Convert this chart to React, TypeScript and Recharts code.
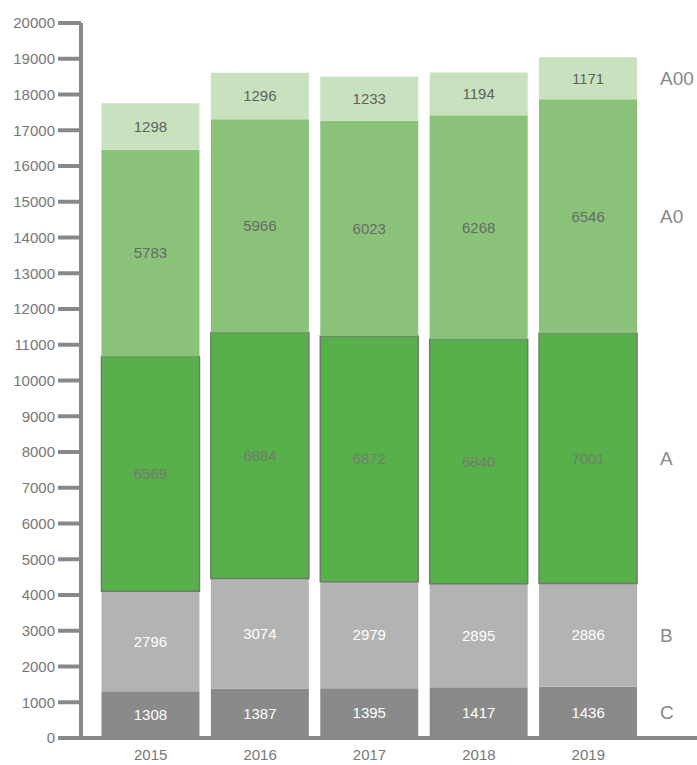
import { BarChart, Bar, XAxis, YAxis, LabelList } from "recharts";

const years = ["2015", "2016", "2017", "2018", "2019"];
const seriesC = [1308, 1387, 1395, 1417, 1436];
const seriesB = [2796, 3074, 2979, 2895, 2886];
const seriesA = [6569, 6884, 6872, 6840, 7001];
const seriesA0 = [5783, 5966, 6023, 6268, 6546];
const seriesA00 = [1298, 1296, 1233, 1194, 1171];
const yTicks = [
  0, 1000, 2000, 3000, 4000, 5000, 6000, 7000, 8000, 9000, 10000,
  11000, 12000, 13000, 14000, 15000, 16000, 17000, 18000, 19000, 20000,
];

const data = years.map((year, i) => ({
  year,
  C: seriesC[i],
  B: seriesB[i],
  A: seriesA[i],
  A0: seriesA0[i],
  A00: seriesA00[i],
}));

const series = [
  { key: "C", fill: "#8a8a8a", text: "#ffffff", stroke: "none" },
  { key: "B", fill: "#b3b3b3", text: "#ffffff", stroke: "none" },
  { key: "A", fill: "#58b04b", text: "#727c70", stroke: "#6f7a6c" },
  { key: "A0", fill: "#8ac27a", text: "#666a66", stroke: "none" },
  { key: "A00", fill: "#c8e2bf", text: "#5f635f", stroke: "none" },
];

const font = "'Liberation Sans', Arial, sans-serif";
const axisColor = "#888888";

export default function App() {
  return (
    <div style={{ position: "absolute", left: 0, top: 0, width: 697, height: 765, background: "#fff" }}>
      <BarChart
        width={697}
        height={765}
        data={data}
        margin={{ top: 23, right: 0, left: 0, bottom: 0 }}
        barCategoryGap="5%"
        style={{ fontFamily: font }}
      >
        <XAxis
          dataKey="year"
          height={27}
          padding={{ left: 15, right: 54 }}
          axisLine={{ stroke: axisColor, strokeWidth: 4 }}
          tickLine={false}
          tickMargin={5}
          tick={{ fill: "#777", fontSize: 15, fontFamily: font }}
        />
        <YAxis
          width={81}
          domain={[0, 20000]}
          ticks={yTicks}
          interval={0}
          axisLine={{ stroke: axisColor, strokeWidth: 4 }}
          tickLine={{ stroke: axisColor, strokeWidth: 4 }}
          tickSize={23}
          tickMargin={3}
          tick={{ fill: "#777", fontSize: 15, fontFamily: font }}
        />
        {series.map((s) => (
          <Bar
            key={s.key}
            dataKey={s.key}
            stackId="s"
            fill={s.fill}
            stroke={s.stroke}
            strokeWidth={s.stroke === "none" ? 0 : 1.5}
            isAnimationActive={false}
          >
            <LabelList
              dataKey={s.key}
              position="center"
              fill={s.text}
              fontSize={15}
              fontFamily={font}
            />
            <LabelList
              dataKey={s.key}
              content={(props: any) => {
                if (props.index !== years.length - 1) return null;
                const x = Number(props.x) + Number(props.width) + 23;
                const y = Number(props.y) + Number(props.height) / 2;
                return (
                  <text
                    x={x}
                    y={y}
                    dominantBaseline="central"
                    fill="#888"
                    fontSize={19}
                    fontFamily={font}
                  >
                    {s.key}
                  </text>
                );
              }}
            />
          </Bar>
        ))}
      </BarChart>
    </div>
  );
}
